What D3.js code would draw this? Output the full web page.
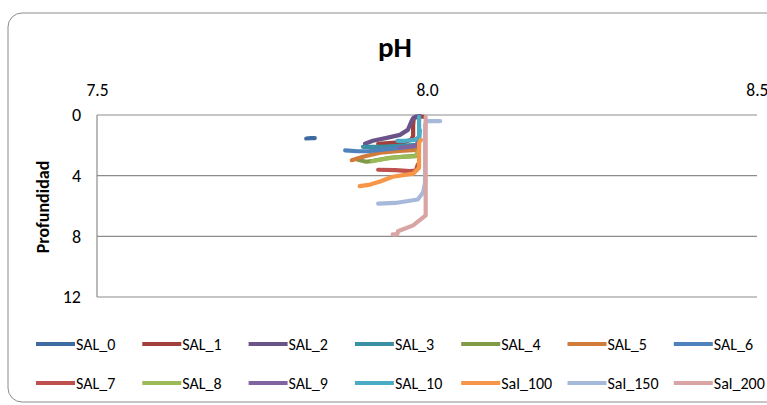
<!DOCTYPE html>
<html>
<head>
<meta charset="utf-8">
<script src="https://cdn.jsdelivr.net/npm/d3@7"></script>
<style>
  body { margin: 0; background: #fff; }
  svg { display: block; font-family: Carlito, Lato, "Liberation Sans", sans-serif; }
</style>
</head>
<body>
<svg class="chart"></svg>
<script>
const seriesNames = ["SAL_0", "SAL_1", "SAL_2", "SAL_3", "SAL_4", "SAL_5", "SAL_6",
  "SAL_7", "SAL_8", "SAL_9", "SAL_10", "Sal_100", "Sal_150", "Sal_200"];
const seriesColors = ["#3D6AA1", "#A03F3C", "#6A5388", "#3A8FA3", "#7F9B47", "#D17B3B", "#4F81BD",
  "#C0504D", "#9BBB59", "#8064A2", "#4BACC6", "#F79646", "#A7B9DA", "#D9A5A4"];

// [pH, profundidad]
const sal0 = [[7.817, 1.55], [7.824, 1.53], [7.830, 1.52]];
const sal1 = [[7.926, 1.90], [7.947, 1.84], [7.967, 1.77], [7.976, 1.64], [7.979, 1.38], [7.979, 0.66], [7.980, 0.20], [7.989, 0.10], [7.997, 0.13]];
const sal2 = [[7.906, 1.90], [7.918, 1.70], [7.939, 1.51], [7.959, 1.31], [7.971, 0.98], [7.976, 0.46], [7.979, 0.20], [7.983, 0.10], [7.989, 0.07]];
const sal3 = [[7.903, 2.10], [7.929, 2.10], [7.959, 2.03], [7.985, 1.97], [7.988, 1.64], [7.989, 1.00]];
const sal4 = [[7.895, 2.95], [7.908, 3.08], [7.918, 3.02], [7.944, 2.82], [7.967, 2.75], [7.985, 2.69], [7.988, 2.30]];
const sal5 = [[7.886, 2.98], [7.903, 2.75], [7.929, 2.49], [7.959, 2.36], [7.985, 2.30], [7.988, 2.03]];
const sal6 = [[7.876, 2.33], [7.895, 2.39], [7.911, 2.39], [7.944, 2.23], [7.979, 2.07], [7.988, 1.90]];
const sal7 = [[7.926, 3.61], [7.952, 3.64], [7.974, 3.70], [7.983, 3.67], [7.986, 3.28]];
const sal8 = [[7.917, 3.05], [7.929, 2.95], [7.947, 2.82], [7.967, 2.75], [7.982, 2.72], [7.986, 2.43]];
const sal9 = [[7.959, 2.16], [7.985, 2.03], [7.986, 1.64]];
const sal10 = [[7.955, 1.70], [7.967, 1.70], [7.982, 1.64], [7.988, 1.44], [7.988, 0.66], [7.988, 0.13]];
const sal100 = [[7.898, 4.69], [7.914, 4.59], [7.929, 4.39], [7.948, 4.07], [7.979, 3.87], [7.988, 3.48], [7.988, 2.62], [7.988, 1.84], [7.991, 1.64]];
const sal150 = [[7.926, 5.84], [7.952, 5.80], [7.986, 5.57], [7.994, 5.11], [7.997, 4.50], [7.997, 0.66], [8.000, 0.40], [8.020, 0.40]];
const sal200 = [[7.948, 7.87], [7.955, 7.87], [7.956, 7.67], [7.979, 7.28], [7.998, 6.62], [7.998, 0.13]];
const seriesValues = [sal0, sal1, sal2, sal3, sal4, sal5, sal6, sal7, sal8, sal9, sal10, sal100, sal150, sal200];

const xTicks = [7.5, 8.0, 8.5];
const yTicks = [0, 4, 8, 12];

const width = 767;
const height = 405;

const svg = d3.select(".chart").attr("width", width).attr("height", height);

// chart border
svg.append("rect")
  .attr("x", 8).attr("y", 13)
  .attr("width", 790).attr("height", 389)
  .attr("rx", 14)
  .attr("fill", "#fff")
  .attr("stroke", "#8c8c8c")
  .attr("stroke-width", 1);

const xScale = d3.scaleLinear().domain([7.5, 8.5]).range([97, 757]);
const yScale = d3.scaleLinear().domain([0, 12]).range([115, 297]);

// gridlines
svg.selectAll(".grid")
  .data(yTicks)
  .enter()
  .append("line")
  .attr("x1", xScale(7.5)).attr("x2", xScale(8.5))
  .attr("y1", (d) => yScale(d)).attr("y2", (d) => yScale(d))
  .attr("stroke", "#8c8c8c")
  .attr("stroke-width", 1.2);

svg.append("line")
  .attr("x1", xScale(7.5)).attr("x2", xScale(7.5))
  .attr("y1", yScale(0)).attr("y2", yScale(12))
  .attr("stroke", "#8c8c8c")
  .attr("stroke-width", 1.2);

// axes
const xAxis = svg.append("g")
  .attr("transform", `translate(0,${yScale(0)})`)
  .call(d3.axisTop(xScale).tickValues(xTicks).tickFormat(d3.format(".1f")).tickSize(0).tickPadding(19));
xAxis.select(".domain").remove();
xAxis.selectAll("text").attr("font-size", 17.5).attr("fill", "#000").style("font-family", "Carlito, Lato, sans-serif");
// last label sits at the window edge
xAxis.selectAll("text").filter((d) => d === 8.5).attr("text-anchor", "end").attr("dx", 11);

const yAxis = svg.append("g")
  .attr("transform", `translate(${xScale(7.5)},0)`)
  .call(d3.axisLeft(yScale).tickValues(yTicks).tickSize(0).tickPadding(16));
yAxis.select(".domain").remove();
yAxis.selectAll("text").attr("font-size", 18).attr("fill", "#000").style("font-family", "Carlito, Lato, sans-serif");

// titles
svg.append("text")
  .attr("x", 395).attr("y", 57)
  .attr("text-anchor", "middle")
  .attr("font-size", 29).attr("font-weight", "bold")
  .text("pH");

svg.append("text")
  .attr("transform", "translate(49,207) rotate(-90)")
  .attr("text-anchor", "middle")
  .attr("font-size", 18).attr("font-weight", "bold")
  .text("Profundidad");

// series lines
const line = d3.line()
  .x((d) => xScale(d[0]))
  .y((d) => yScale(d[1]));

svg.selectAll(".serie")
  .data(seriesValues)
  .enter()
  .append("path")
  .attr("d", line)
  .attr("fill", "none")
  .attr("stroke", (d, i) => seriesColors[i])
  .attr("stroke-width", 4.2)
  .attr("stroke-linejoin", "round")
  .attr("stroke-linecap", "round");

// legend
const legend = svg.selectAll(".legend")
  .data(seriesNames)
  .enter()
  .append("g")
  .attr("transform", (d, i) => `translate(${36 + (i % 7) * 106.3},${i < 7 ? 344 : 383})`);

legend.append("line")
  .attr("x1", 0).attr("x2", 39)
  .attr("stroke", (d, i) => seriesColors[i])
  .attr("stroke-width", 4);

legend.append("text")
  .attr("x", 40).attr("y", 6)
  .attr("font-size", 16)
  .text((d) => d);
</script>
</body>
</html>
